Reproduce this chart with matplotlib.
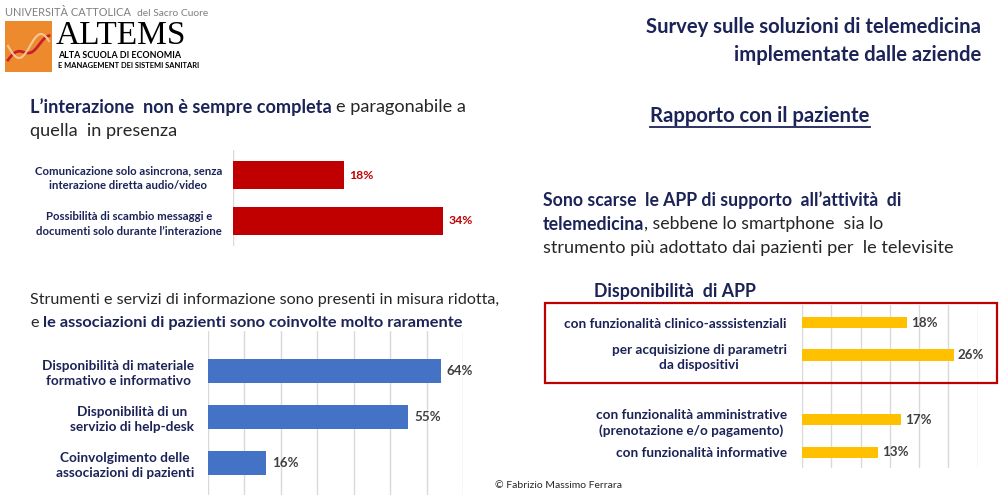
import matplotlib
matplotlib.use("Agg")
import matplotlib.pyplot as plt
from matplotlib.patches import Rectangle
import numpy as np

plt.rcParams['font.family'] = ['Lato', 'DejaVu Sans']

W, H = 1000, 501
NAVY = '#1b2357'
BODY = '#262626'

# --- data ---
red_labels = ['Comunicazione solo asincrona, senza\ninterazione diretta audio/video',
              'Possibilità di scambio messaggi e\ndocumenti solo durante l\u2019interazione']
red_values = [18, 34]

blue_labels = ['Disponibilità di materiale\nformativo e informativo',
               'Disponibilità di un\nservizio di help-desk',
               'Coinvolgimento delle\nassociazioni di pazienti']
blue_values = [64, 55, 16]

app_labels = ['con funzionalità clinico-asssistenziali',
              'per acquisizione di parametri\nda dispositivi',
              '',
              'con funzionalità amministrative\n(prenotazione e/o pagamento)',
              'con funzionalità informative']
app_values = [18, 26, None, 17, 13]

fig = plt.figure(figsize=(W / 100, H / 100), dpi=100)
fig.patch.set_facecolor('white')
renderer = fig.canvas.get_renderer()


def px_axes(left, top, right, bottom):
    return fig.add_axes([left / W, 1 - bottom / H, (right - left) / W, (bottom - top) / H])


def fx(x, y):
    return x / W, 1 - y / H


def rich(x, y, parts, size):
    # parts: (text, bold, colour); pieces laid out one after the other
    space = size * 100 / 72 * 0.25
    for s, bold, col in parts:
        if s.startswith(','):
            x -= space
        t = fig.text(*fx(x, y), s, fontsize=size, color=col, va='center', ha='left',
                     fontweight='bold' if bold else 'normal')
        x = t.get_window_extent(renderer).x1 + space


def barchart(ax, labels, values, color, xmax, step, vcolor, lsize, vsize, bh, pad, ls, grid=True):
    pos = np.arange(len(labels))
    vals = [v if v is not None else 0 for v in values]
    bars = ax.barh(pos, vals, height=bh, color=color, zorder=3)
    for b, v in zip(bars, values):
        if v is None:
            continue
        ax.text(v + xmax * 0.022, b.get_y() + b.get_height() / 2, f'{v}%', va='center',
                ha='left', fontsize=vsize, fontweight='bold', color=vcolor)
    ax.set_xlim(0, xmax)
    ax.set_yticks(pos)
    ax.set_yticklabels(labels, fontsize=lsize, fontweight='bold', color=NAVY,
                       multialignment='center', linespacing=ls)
    ax.tick_params(axis='y', length=0, pad=pad)
    ax.tick_params(axis='x', length=0, labelbottom=False)
    ax.set_xticks(np.arange(0, xmax + 0.1, step))
    for s in ax.spines.values():
        s.set_visible(False)
    if grid:
        ax.grid(axis='x', color='#d9d9d9', lw=1, zorder=0)
    ax.set_facecolor('none')


# red chart
ax1 = px_axes(233, 150, 480, 246)
barchart(ax1, red_labels, red_values, '#C00000', 40, 40, '#C00000', 8.2, 8.8, 0.61, 8, 1.45,
         grid=False)
ax1.axvline(0, color='#d9d9d9', lw=1)
ax1.set_ylim(1.55, -0.55)

# blue chart
ax2 = px_axes(208, 331, 463, 495)
barchart(ax2, blue_labels, blue_values, '#4472C4', 70, 10, '#404040', 9.8, 9.6, 0.52, 10, 1.3)
ax2.set_ylim(2.7, -0.87)

# app chart
ax3 = px_axes(802, 305, 977.5, 468)
barchart(ax3, app_labels, app_values, '#FFC000', 30, 5, '#404040', 9.8, 9.6, 0.34, 11, 1.3)
ax3.set_ylim(4.48, -0.54)

# red frame round the first two APP bars
fig.patches.append(Rectangle(fx(545, 383), 452 / W, 80 / H, transform=fig.transFigure,
                             fill=False, edgecolor='#C00000', lw=1.6))

# header texts
fig.text(*fx(981, 27), 'Survey sulle soluzioni di telemedicina', ha='right', va='center',
         fontsize=14.6, fontweight='bold', color=NAVY)
fig.text(*fx(981, 55), 'implementate dalle aziende', ha='right', va='center',
         fontsize=14.6, fontweight='bold', color=NAVY)

rich(30, 107, [('L\u2019interazione  non è sempre completa', True, NAVY),
               ('e paragonabile a', False, BODY)], 13.1)
fig.text(*fx(30, 131), 'quella  in presenza', va='center', fontsize=13.1, color=BODY)

t = fig.text(*fx(760, 116), 'Rapporto con il paziente', ha='center', va='center',
             fontsize=14.6, fontweight='bold', color=NAVY)
bb = t.get_window_extent(renderer)
fig.add_artist(plt.Line2D([bb.x0 / W, bb.x1 / W], [(bb.y0 - 1) / H] * 2, color=NAVY, lw=1.3))

fig.text(*fx(543, 200), 'Sono scarse  le APP di supporto  all\u2019attività  di', va='center',
         fontsize=12.7, fontweight='bold', color=NAVY)
rich(543, 224, [('telemedicina', True, NAVY), (', sebbene lo smartphone  sia lo', False, BODY)],
     12.8)
fig.text(*fx(543, 248), 'strumento più adottato dai pazienti per  le televisite', va='center',
         fontsize=13.1, color=BODY)
fig.text(*fx(594, 291), 'Disponibilità  di APP', va='center', fontsize=12.8,
         fontweight='bold', color=NAVY)

fig.text(*fx(30, 300), 'Strumenti e servizi di informazione sono presenti in misura ridotta,',
         va='center', fontsize=11.6, color=BODY)
rich(30, 323, [('e', False, BODY),
               ('le associazioni di pazienti sono coinvolte molto raramente', True, NAVY)], 11.8)

fig.text(*fx(495, 485), '\u00a9 Fabrizio Massimo Ferrara', va='center', fontsize=7.5, color=BODY)

# logo
fig.text(*fx(5, 12), 'UNIVERSITÀ CATTOLICA', va='center', fontsize=7.9, color='#7f7f7f')
fig.text(*fx(137, 13), 'del Sacro Cuore', va='center', fontsize=7.4, color='#7f7f7f')
fig.patches.append(Rectangle(fx(5, 72), 47 / W, 51 / H, transform=fig.transFigure,
                             facecolor='#EE8A2E', edgecolor='none'))
lx = np.linspace(8, 49, 40)
fig.add_artist(plt.Line2D(lx / W, 1 - (60 - 0.5 * (lx - 8) - 4 * np.sin((lx - 8) / 5)) / H,
                          color='#c8202a', lw=2))
fig.add_artist(plt.Line2D(lx / W, 1 - (46 + 12 * np.sin((lx - 8) / 7)) / H,
                          color='#f6c79a', lw=1.5))
fig.text(*fx(56, 36), 'ALTEMS', va='center', fontsize=24, color='black', family='Liberation Serif')
fig.text(*fx(58, 56), 'ALTA SCUOLA DI ECONOMIA', va='center', fontsize=6.4, color='black',
         fontweight='bold')
fig.text(*fx(58, 65), 'E MANAGEMENT DEI SISTEMI SANITARI', va='center', fontsize=5.4,
         color='black', fontweight='bold')

fig.savefig('out.png', dpi=100)
